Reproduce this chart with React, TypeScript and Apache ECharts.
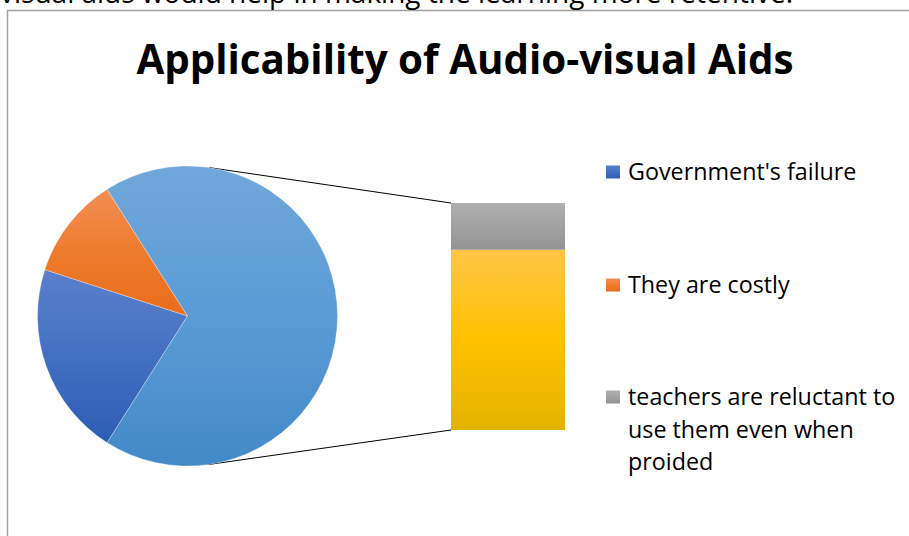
import React, { useEffect, useRef } from "react";
import * as echarts from "echarts";

// ---- data ----
const pieCategories = ["Government's failure", "They are costly"];
const pieValues = [21, 11];
const otherLabel = "Other";
const barCategories = ["Other reasons", "teachers are reluctant to use them even when proided"];
const barValues = [54, 14];
const legendNames = ["Government's failure", "They are costly", "teachers are reluctant to use them even when proided"];
const legendLabels = ["Government's failure", "They are costly", "teachers are reluctant to\nuse them even when\nproided"];
const titleText = "Applicability of Audio-visual Aids";
const pageText = "visual aids would help in making the learning more retentive.";

// ---- layout ----
const W = 909;
const H = 536;
const PIE_CX = 187.5;
const PIE_CY = 316;
const PIE_R = 150;
const BAR_LEFT = 451;
const BAR_TOP = 203;
const BAR_W = 114;
const BAR_H = 227;
const FONT = "'Open Sans', Lato, sans-serif";

const grad = (c0: string, c1: string, c2: string) =>
  new echarts.graphic.LinearGradient(0, 0, 0, 1, [
    { offset: 0, color: c0 },
    { offset: 0.5, color: c1 },
    { offset: 1, color: c2 },
  ]);

const pieColors = [
  () => grad("#5B80CC", "#4470C2", "#2D5CB4"),
  () => grad("#F18F55", "#EE7B2C", "#E96D1C"),
];
const otherColor = () => grad("#71A7DA", "#5A9BD6", "#4389C8");
const barColors = [
  () => grad("#FFC548", "#FFC100", "#E5B200"),
  () => grad("#AFAFAF", "#A2A2A2", "#939393"),
];
const legendColors = [pieColors[0], pieColors[1], barColors[1]];

function tangentPoint(px: number, py: number, upper: boolean) {
  const dx = px - PIE_CX;
  const dy = py - PIE_CY;
  const d = Math.hypot(dx, dy);
  const phi = Math.atan2(dy, dx);
  const alpha = Math.acos(PIE_R / d);
  const a1 = phi + alpha;
  const a2 = phi - alpha;
  const p1 = [PIE_CX + PIE_R * Math.cos(a1), PIE_CY + PIE_R * Math.sin(a1)];
  const p2 = [PIE_CX + PIE_R * Math.cos(a2), PIE_CY + PIE_R * Math.sin(a2)];
  if (upper) return p1[1] < p2[1] ? p1 : p2;
  return p1[1] > p2[1] ? p1 : p2;
}

export default function App() {
  const ref = useRef<HTMLDivElement>(null);

  useEffect(() => {
    document.body.style.margin = "0";
    const chart = echarts.init(ref.current!, null, { renderer: "svg" });

    const otherTotal = barValues.reduce((a, b) => a + b, 0);
    const total = pieValues.reduce((a, b) => a + b, 0) + otherTotal;
    const otherAngle = (otherTotal / total) * 360;
    const startAngle = otherAngle / 2 + (360 - otherAngle);

    const pieData = pieCategories.map((name, i) => ({
      name,
      value: pieValues[i],
      itemStyle: { color: pieColors[i]() },
    }));
    pieData.push({ name: otherLabel, value: otherTotal, itemStyle: { color: otherColor() } });

    const tTop = tangentPoint(BAR_LEFT, BAR_TOP, true);
    const tBot = tangentPoint(BAR_LEFT, BAR_TOP + BAR_H, false);

    const legendTops = [172, 285, 397];
    const legendGraphics: any[] = [];
    legendNames.forEach((name, i) => {
      legendGraphics.push({
        type: "rect",
        x: 606,
        y: legendTops[i] - 6.5,
        shape: { width: 14, height: 13 },
        style: { fill: legendColors[i]() },
        silent: true,
      });
      legendGraphics.push({
        type: "text",
        x: 628,
        y: legendTops[i] - 17,
        style: {
          text: legendLabels[i],
          fill: "#000",
          fontFamily: FONT,
          fontSize: 23.3,
          lineHeight: 32.5,
          align: "left",
          verticalAlign: "top",
        },
        silent: true,
      });
    });

    chart.setOption({
      animation: false,
      backgroundColor: "#fff",
      title: {
        text: titleText,
        left: 465,
        textAlign: "center",
        top: 38,
        padding: 0,
        textStyle: { fontFamily: FONT, fontWeight: "bold", fontSize: 40.3, color: "#000" },
      },
      grid: { left: BAR_LEFT, top: BAR_TOP, width: BAR_W, height: BAR_H },
      xAxis: { type: "category", data: ["bar"], show: false },
      yAxis: { type: "value", min: 0, max: otherTotal, show: false },
      series: [
        {
          type: "pie",
          center: [PIE_CX, PIE_CY],
          radius: PIE_R,
          startAngle,
          clockwise: true,
          label: { show: false },
          labelLine: { show: false },
          silent: true,
          emphasis: { disabled: true },
          itemStyle: { borderColor: "rgba(255,255,255,0.6)", borderWidth: 0.5 },
          data: pieData,
        },
        ...barCategories.map((name, i) => ({
          type: "bar",
          name,
          stack: "other",
          barWidth: "100%",
          silent: true,
          itemStyle: { color: barColors[i]() },
          data: [barValues[i]],
        })),
      ],
      graphic: [
        {
          type: "rect",
          x: 7.5,
          y: 10.5,
          shape: { width: 940, height: 600 },
          style: { fill: "none", stroke: "#A0A0A0", lineWidth: 1.5 },
          silent: true,
          z: -1,
        },
        {
          type: "text",
          x: 0,
          y: 6,
          style: {
            text: pageText,
            fill: "#000",
            fontFamily: FONT,
            fontSize: 28,
            align: "left",
            verticalAlign: "bottom",
          },
          silent: true,
        },
        {
          type: "line",
          shape: { x1: tTop[0], y1: tTop[1], x2: BAR_LEFT, y2: BAR_TOP },
          style: { stroke: "#000", lineWidth: 1 },
          silent: true,
        },
        {
          type: "line",
          shape: { x1: tBot[0], y1: tBot[1], x2: BAR_LEFT, y2: BAR_TOP + BAR_H },
          style: { stroke: "#000", lineWidth: 1 },
          silent: true,
        },
        ...legendGraphics,
      ],
    });

    return () => chart.dispose();
  }, []);

  return (
    <div
      ref={ref}
      style={{ position: "absolute", left: 0, top: 0, width: W, height: H, overflow: "hidden" }}
    />
  );
}
